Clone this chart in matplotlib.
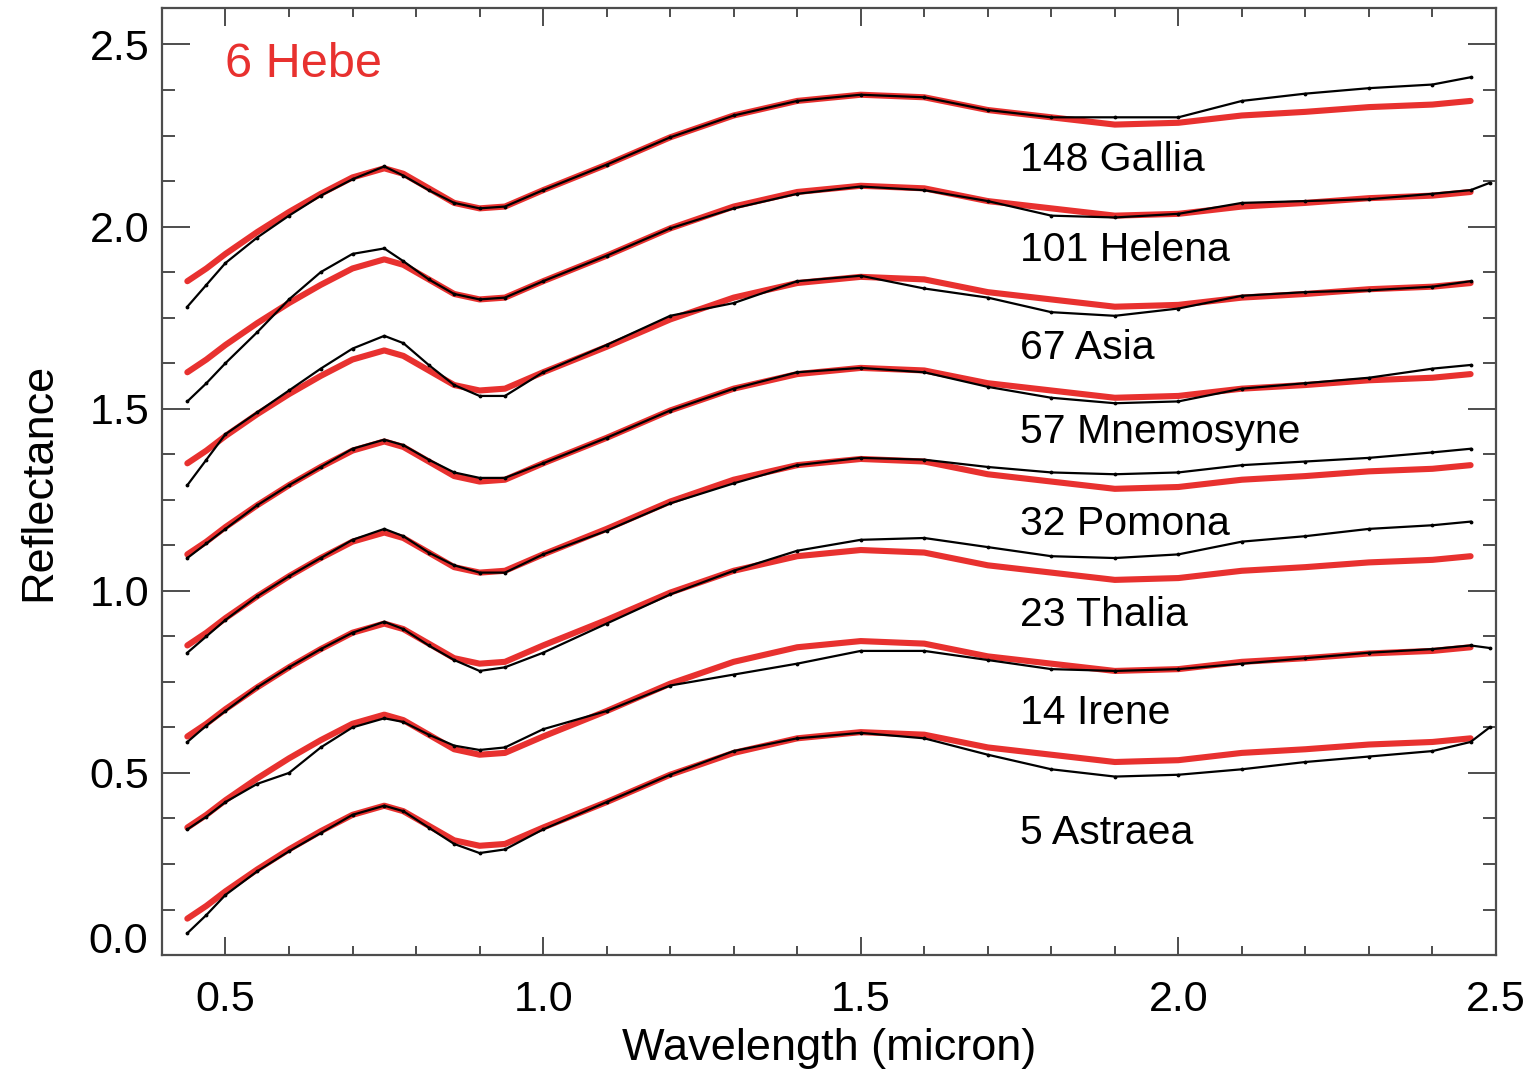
import numpy as np
import matplotlib.pyplot as plt
from matplotlib.ticker import MultipleLocator, FuncFormatter

plt.rcParams['font.family'] = ['Liberation Sans', 'DejaVu Sans']

# wavelength grid (micron) at which the spectra were read
wl = [0.44, 0.47, 0.50, 0.55, 0.60, 0.65, 0.70, 0.75, 0.78, 0.82, 0.86, 0.90, 0.94,
      1.00, 1.10, 1.20, 1.30, 1.40, 1.50, 1.60, 1.70, 1.80, 1.90, 2.00, 2.10, 2.20,
      2.30, 2.40, 2.46, 2.49]

# 6 Hebe reflectance (no offset)
hebe = [0.10, 0.135, 0.175, 0.235, 0.29, 0.34, 0.385, 0.41, 0.395, 0.355, 0.315, 0.30, 0.305,
        0.35, 0.42, 0.495, 0.555, 0.595, 0.612, 0.605, 0.57, 0.55, 0.53, 0.535, 0.555, 0.565,
        0.578, 0.585, 0.595, np.nan]

names = ['148 Gallia', '101 Helena', '67 Asia', '57 Mnemosyne',
         '32 Pomona', '23 Thalia', '14 Irene', '5 Astraea']
offsets = [1.75, 1.50, 1.25, 1.00, 0.75, 0.50, 0.25, 0.00]

gallia = [1.78, 1.84, 1.90, 1.97, 2.03, 2.085, 2.13, 2.165, 2.14, 2.10, 2.065, 2.05, 2.055,
          2.10, 2.17, 2.245, 2.305, 2.345, 2.362, 2.355, 2.32, 2.30, 2.30, 2.30, 2.345, 2.365,
          2.38, 2.39, 2.41, np.nan]
helena = [1.52, 1.57, 1.625, 1.71, 1.80, 1.875, 1.925, 1.94, 1.905, 1.855, 1.815, 1.80, 1.805,
          1.85, 1.92, 1.995, 2.05, 2.09, 2.11, 2.10, 2.07, 2.03, 2.025, 2.035, 2.065, 2.07,
          2.075, 2.09, 2.10, 2.12]
asia = [1.29, 1.36, 1.43, 1.49, 1.55, 1.61, 1.665, 1.70, 1.68, 1.62, 1.565, 1.535, 1.535,
        1.60, 1.675, 1.755, 1.79, 1.85, 1.865, 1.83, 1.805, 1.765, 1.755, 1.775, 1.81, 1.82,
        1.825, 1.835, 1.85, np.nan]
mnemosyne = [1.09, 1.13, 1.17, 1.235, 1.29, 1.34, 1.39, 1.415, 1.40, 1.36, 1.325, 1.31, 1.31,
             1.35, 1.42, 1.495, 1.555, 1.60, 1.612, 1.60, 1.56, 1.53, 1.515, 1.52, 1.555, 1.57,
             1.585, 1.61, 1.62, np.nan]
pomona = [0.83, 0.875, 0.92, 0.985, 1.04, 1.09, 1.14, 1.17, 1.15, 1.105, 1.07, 1.05, 1.05,
          1.10, 1.165, 1.24, 1.295, 1.345, 1.365, 1.36, 1.34, 1.325, 1.32, 1.325, 1.345, 1.355,
          1.365, 1.38, 1.39, np.nan]
thalia = [0.585, 0.63, 0.67, 0.735, 0.79, 0.84, 0.885, 0.915, 0.895, 0.85, 0.81, 0.78, 0.79,
          0.83, 0.91, 0.99, 1.055, 1.11, 1.14, 1.145, 1.12, 1.095, 1.09, 1.10, 1.135, 1.15,
          1.17, 1.18, 1.19, np.nan]
irene = [0.345, 0.38, 0.42, 0.47, 0.50, 0.57, 0.625, 0.65, 0.64, 0.605, 0.575, 0.563, 0.57,
         0.62, 0.67, 0.74, 0.77, 0.80, 0.835, 0.835, 0.81, 0.785, 0.78, 0.785, 0.80, 0.815,
         0.83, 0.84, 0.85, 0.843]
astraea = [0.06, 0.11, 0.165, 0.23, 0.285, 0.335, 0.385, 0.41, 0.395, 0.35, 0.305, 0.28, 0.29,
           0.345, 0.42, 0.495, 0.56, 0.595, 0.61, 0.595, 0.55, 0.51, 0.49, 0.495, 0.51, 0.53,
           0.545, 0.56, 0.585, 0.625]
asteroids = [gallia, helena, asia, mnemosyne, pomona, thalia, irene, astraea]

# text placement
label_x = 1.75
label_y = [2.184, 1.937, 1.668, 1.437, 1.184, 0.934, 0.665, 0.335]

red = '#e8312f'
frame = '#4d4d4d'
tick_fs = 31

fig = plt.figure(figsize=(15.32, 10.72), dpi=100)
ax = fig.add_axes([0.1057, 0.1091, 0.8708, 0.8834])

x = np.array(wl)
for spec, off, name, ly in zip(asteroids, offsets, names, label_y):
    ax.plot(x, np.array(hebe) + off, color=red, lw=4.4, solid_capstyle='round', zorder=2)
    ax.plot(x, spec, color='black', lw=1.6, marker='.', ms=3.5, zorder=3)
    ax.text(label_x, ly, name, fontsize=29.5, va='center', ha='left')

ax.text(0.5, 2.445, '6 Hebe', color=red, fontsize=35, va='center', ha='left')

ax.set_xlim(0.4, 2.5)
ax.set_ylim(0.0, 2.6)
ax.xaxis.set_major_locator(MultipleLocator(0.5))
ax.xaxis.set_minor_locator(MultipleLocator(0.1))
ax.yaxis.set_major_locator(MultipleLocator(0.5))
ax.yaxis.set_minor_locator(MultipleLocator(0.125))
ax.xaxis.set_major_formatter(plt.FormatStrFormatter('%.1f'))
# the 0.0 label sits above its tick, drawn separately below
ax.yaxis.set_major_formatter(FuncFormatter(lambda v, p: '' if abs(v) < 1e-9 else f'{v:.1f}'))

ax.tick_params(axis='both', which='both', direction='in', top=True, right=True,
               color=frame, width=1.4, labelsize=tick_fs)
ax.tick_params(axis='x', which='major', length=13, pad=18)
ax.tick_params(axis='x', which='minor', length=6.5)
ax.tick_params(axis='y', which='major', length=20, pad=9)
ax.tick_params(axis='y', which='minor', length=9.5)
for s in ax.spines.values():
    s.set_color(frame)
    s.set_linewidth(1.6)

ax.annotate('0.0', xy=(0, 0), xycoords='axes fraction', xytext=(-10, -5),
            textcoords='offset points', ha='right', va='bottom', fontsize=tick_fs)

ax.set_xlabel('Wavelength (micron)', fontsize=32.5, labelpad=6)
ax.set_ylabel('Reflectance', fontsize=32.5, labelpad=22)

fig.savefig('out.png', dpi=100)
